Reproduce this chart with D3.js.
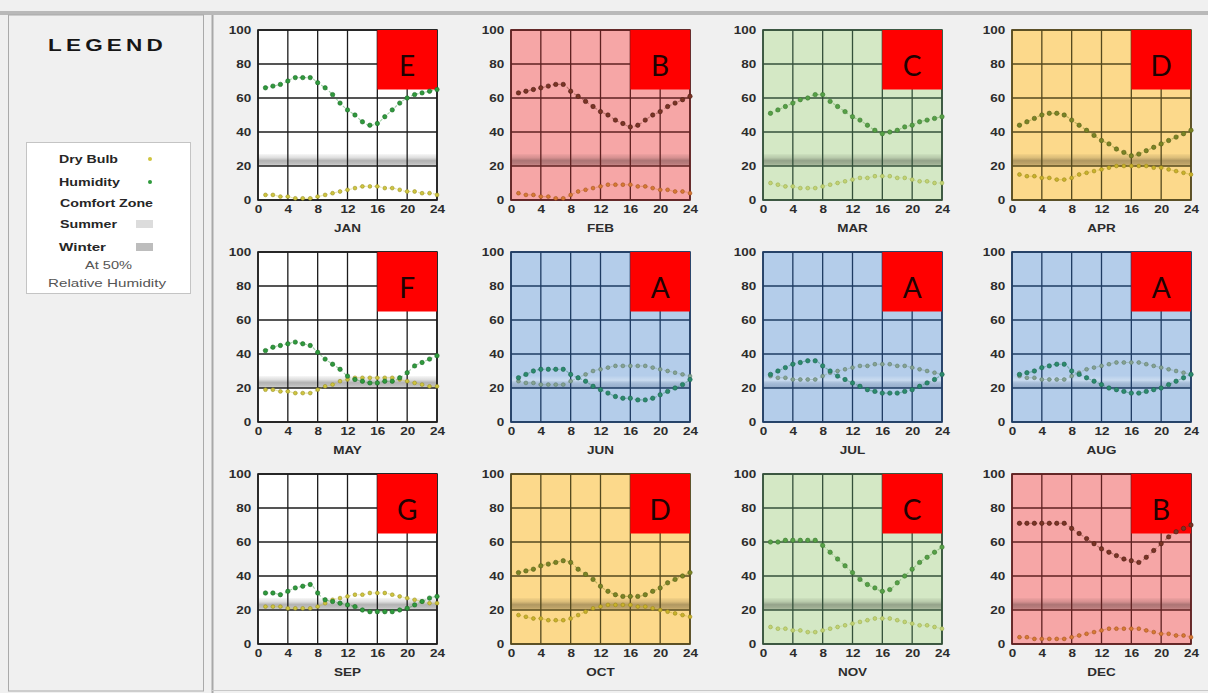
<!DOCTYPE html>
<html>
<head>
<meta charset="utf-8">
<script src="https://cdn.jsdelivr.net/npm/d3@7"></script>
<style>
  html, body { margin: 0; padding: 0; background: #f0f0f0; }
  svg { display: block; font-family: "Liberation Sans", Arial, sans-serif; }
</style>
</head>
<body>
<svg id="chart" width="1208" height="693"></svg>
<script>
// ---- data -------------------------------------------------------------
const months = ["JAN", "FEB", "MAR", "APR", "MAY", "JUN", "JUL", "AUG", "SEP", "OCT", "NOV", "DEC"];
const zoneLetters = ["E", "B", "C", "D", "F", "A", "A", "A", "G", "D", "C", "B"];
const zoneThemes = ["white", "pink", "green", "yellow", "white", "blue", "blue", "blue", "white", "yellow", "green", "pink"];
const hours = [1, 2, 3, 4, 5, 6, 7, 8, 9, 10, 11, 12, 13, 14, 15, 16, 17, 18, 19, 20, 21, 22, 23, 24];
const xTicks = [0, 4, 8, 12, 16, 20, 24];
const yTicks = [0, 20, 40, 60, 80, 100];
const comfortZone = [20, 27];   // band at 50% relative humidity
const zoneBox = { from: 16, to: 24, low: 65, high: 100 };

// hourly dry bulb, one row per month
const dryBulb = [
  [3, 3, 2, 2, 1, 1, 1, 2, 3, 4, 5, 6, 7, 8, 8, 8, 7, 7, 6, 5, 5, 4, 4, 3],
  [4, 3, 3, 2, 2, 1, 1, 3, 5, 6, 7, 8, 9, 9, 9, 9, 8, 8, 7, 6, 6, 5, 5, 4],
  [10, 9, 8, 8, 7, 7, 7, 8, 9, 10, 11, 12, 13, 13, 14, 14, 14, 13, 13, 12, 11, 11, 10, 10],
  [15, 14, 14, 13, 13, 12, 12, 13, 15, 16, 17, 18, 19, 20, 20, 20, 20, 20, 19, 19, 18, 17, 16, 15],
  [19, 19, 18, 18, 17, 17, 17, 19, 21, 22, 24, 25, 26, 26, 26, 26, 26, 26, 25, 24, 23, 22, 21, 21],
  [24, 23, 23, 22, 22, 22, 22, 24, 26, 28, 30, 31, 32, 33, 33, 33, 33, 33, 32, 31, 30, 29, 28, 27],
  [27, 26, 26, 25, 25, 25, 25, 27, 29, 30, 31, 32, 33, 33, 34, 34, 34, 33, 33, 32, 31, 30, 29, 28],
  [27, 26, 26, 25, 25, 25, 25, 27, 29, 31, 32, 33, 34, 35, 35, 35, 35, 34, 33, 32, 31, 30, 29, 28],
  [22, 22, 22, 21, 21, 21, 21, 22, 24, 26, 27, 28, 29, 29, 30, 30, 30, 29, 28, 27, 26, 25, 24, 24],
  [17, 16, 15, 15, 14, 14, 14, 15, 17, 19, 21, 22, 23, 23, 23, 23, 22, 22, 21, 20, 19, 18, 17, 16],
  [10, 9, 9, 8, 8, 7, 7, 8, 9, 10, 11, 12, 13, 14, 15, 15, 15, 14, 13, 12, 11, 11, 10, 9],
  [4, 4, 3, 3, 3, 3, 3, 4, 5, 6, 7, 8, 9, 9, 9, 9, 9, 8, 7, 6, 6, 5, 5, 4]
];

// hourly humidity, one row per month
const humidity = [
  [66, 67, 68, 70, 72, 72, 72, 69, 66, 62, 57, 53, 50, 46, 44, 45, 49, 53, 57, 60, 62, 63, 64, 65],
  [63, 64, 65, 66, 67, 68, 68, 64, 61, 58, 55, 52, 50, 47, 45, 43, 44, 47, 50, 52, 55, 57, 59, 61],
  [51, 53, 55, 57, 59, 60, 62, 62, 58, 55, 52, 49, 47, 44, 41, 39, 40, 41, 43, 44, 46, 47, 48, 49],
  [44, 46, 48, 50, 51, 51, 50, 47, 44, 41, 38, 35, 33, 30, 28, 26, 27, 29, 31, 33, 35, 37, 39, 41],
  [42, 44, 45, 46, 47, 46, 45, 41, 37, 34, 31, 27, 25, 24, 23, 23, 24, 24, 26, 29, 33, 35, 37, 39],
  [26, 28, 30, 31, 31, 31, 31, 28, 26, 24, 21, 19, 17, 15, 14, 14, 13, 13, 14, 16, 18, 20, 22, 25],
  [28, 30, 32, 34, 35, 36, 36, 33, 30, 27, 25, 23, 21, 19, 18, 17, 17, 17, 18, 19, 21, 23, 25, 28],
  [28, 29, 30, 32, 33, 34, 34, 30, 28, 26, 24, 22, 20, 19, 18, 17, 17, 18, 19, 20, 22, 24, 26, 28],
  [30, 30, 29, 31, 33, 34, 35, 30, 26, 25, 24, 23, 22, 20, 19, 19, 19, 19, 20, 21, 23, 25, 27, 28],
  [42, 43, 44, 46, 47, 48, 49, 48, 44, 41, 38, 34, 31, 29, 28, 28, 28, 29, 31, 33, 36, 38, 40, 42],
  [60, 60, 61, 61, 61, 61, 61, 58, 54, 50, 46, 42, 38, 35, 33, 31, 32, 36, 40, 44, 48, 51, 54, 57],
  [71, 71, 71, 71, 71, 71, 71, 68, 65, 62, 59, 56, 54, 52, 50, 49, 48, 51, 55, 59, 63, 66, 68, 70]
];

// ---- styling ----------------------------------------------------------
const themes = {
  white:  { bg: "#ffffff", grid: "#1c1c1c", hum: "#2f9a3c", humEdge: "#1d6a28", dry: "#cfc53e", dryEdge: "#9a9228", band: "dark" },
  pink:   { bg: "#f6a6a6", grid: "#5e2020", hum: "#7a3424", humEdge: "#4e1c14", dry: "#d67a34", dryEdge: "#a85420", band: "dark" },
  green:  { bg: "#d4e8c5", grid: "#34503a", hum: "#56a046", humEdge: "#3b7a30", dry: "#c2d274", dryEdge: "#9cb050", band: "dark" },
  yellow: { bg: "#fcd98b", grid: "#54491e", hum: "#7a8424", humEdge: "#58601a", dry: "#c9b22a", dryEdge: "#9c8a1c", band: "dark" },
  blue:   { bg: "#b4cdea", grid: "#1e3b62", hum: "#2b8a6c", humEdge: "#1d6650", dry: "#86a292", dryEdge: "#60806e", band: "light" }
};

const colLeft = [258, 511, 763, 1012];
const rowTop = [30, 252, 474];
const plotW = 179, plotH = 170;
const textStretch = "scale(1.35,1)";

const svg = d3.select("#chart");
const defs = svg.append("defs");

// comfort band gradients
const darkBand = defs.append("linearGradient").attr("id", "band-dark")
  .attr("x1", 0).attr("y1", 0).attr("x2", 0).attr("y2", 1);
[[0, 0.04], [0.3, 0.13], [0.55, 0.3], [0.85, 0.24], [1, 0.08]].forEach(([o, a]) =>
  darkBand.append("stop").attr("offset", o).attr("stop-color", "#000").attr("stop-opacity", a));
const lightBand = defs.append("linearGradient").attr("id", "band-light")
  .attr("x1", 0).attr("y1", 0).attr("x2", 0).attr("y2", 1);
[[0, "#fff", 0.05], [0.35, "#fff", 0.3], [0.65, "#56627a", 0.18], [1, "#1e3050", 0.22]].forEach(([o, c, a]) =>
  lightBand.append("stop").attr("offset", o).attr("stop-color", c).attr("stop-opacity", a));

// ---- page chrome ------------------------------------------------------
svg.append("rect").attr("x", 0).attr("y", 0).attr("width", 1208).attr("height", 693).attr("fill", "#f0f0f0");
svg.append("rect").attr("x", 0).attr("y", 11).attr("width", 1208).attr("height", 4).attr("fill", "#b9b9b9");
svg.append("rect").attr("x", 8.5).attr("y", 15).attr("width", 195).attr("height", 676)
  .attr("fill", "#f0f0f0").attr("stroke", "#aaaaaa").attr("stroke-width", 1);
svg.append("line").attr("x1", 212.5).attr("x2", 212.5).attr("y1", 15).attr("y2", 693)
  .attr("stroke", "#a8a8a8").attr("stroke-width", 2);
svg.append("line").attr("x1", 212).attr("x2", 1208).attr("y1", 690.5).attr("y2", 690.5)
  .attr("stroke", "#c8c8c8").attr("stroke-width", 1);

// ---- legend -----------------------------------------------------------
const legend = svg.append("g");
legend.append("text").attr("x", 48).attr("y", 51).attr("font-size", 16).attr("font-weight", 900)
  .attr("letter-spacing", 3)
  .attr("fill", "#161616").attr("textLength", 119).attr("lengthAdjust", "spacingAndGlyphs").text("LEGEND");
legend.append("rect").attr("x", 26.5).attr("y", 142.5).attr("width", 164).attr("height", 151)
  .attr("fill", "#ffffff").attr("stroke", "#c4c4c4");

const legendRows = [
  { label: "Dry Bulb", x: 59, y: 163, w: 59, bold: true },
  { label: "Humidity", x: 59, y: 186, w: 61, bold: true },
  { label: "Comfort Zone", x: 60, y: 207, w: 93, bold: true },
  { label: "Summer", x: 60, y: 228, w: 57, bold: true },
  { label: "Winter", x: 59, y: 251, w: 47, bold: true },
  { label: "At 50%", x: 85, y: 269, w: 47, bold: false },
  { label: "Relative Humidity", x: 48, y: 287, w: 118, bold: false }
];
legendRows.forEach(r => {
  legend.append("text").attr("x", r.x).attr("y", r.y).attr("font-size", 11)
    .attr("font-weight", r.bold ? "bold" : "normal")
    .attr("fill", r.bold ? "#262626" : "#555555")
    .attr("textLength", r.w).attr("lengthAdjust", "spacingAndGlyphs").text(r.label);
});
legend.append("circle").attr("cx", 150).attr("cy", 159).attr("r", 2).attr("fill", themes.white.dry);
legend.append("circle").attr("cx", 150).attr("cy", 182).attr("r", 2).attr("fill", themes.white.hum);
legend.append("rect").attr("x", 136).attr("y", 220).attr("width", 17).attr("height", 8).attr("fill", "#dcdcdc");
legend.append("rect").attr("x", 136).attr("y", 243).attr("width", 17).attr("height", 8).attr("fill", "#bdbdbd");

// ---- monthly panels ---------------------------------------------------
const x = d3.scaleLinear().domain([0, 24]).range([0, plotW]);
const y = d3.scaleLinear().domain([0, 100]).range([plotH, 0]);
const line = d3.line().x((d, i) => x(hours[i])).y(d => y(d)).curve(d3.curveMonotoneX);

months.forEach((month, m) => {
  const t = themes[zoneThemes[m]];
  const g = svg.append("g")
    .attr("transform", `translate(${colLeft[m % 4]},${rowTop[Math.floor(m / 4)]})`);

  g.append("rect").attr("width", plotW).attr("height", plotH).attr("fill", t.bg);

  g.append("rect")
    .attr("x", 0).attr("width", plotW)
    .attr("y", y(comfortZone[1])).attr("height", y(comfortZone[0]) - y(comfortZone[1]))
    .attr("fill", t.band === "light" ? "url(#band-light)" : "url(#band-dark)");

  g.selectAll(".vgrid").data(xTicks).join("line")
    .attr("x1", d => x(d)).attr("x2", d => x(d)).attr("y1", 0).attr("y2", plotH)
    .attr("stroke", t.grid).attr("stroke-width", 1.3);
  g.selectAll(".hgrid").data(yTicks).join("line")
    .attr("x1", 0).attr("x2", plotW).attr("y1", d => y(d)).attr("y2", d => y(d))
    .attr("stroke", t.grid).attr("stroke-width", 1.3);
  g.append("rect").attr("width", plotW).attr("height", plotH)
    .attr("fill", "none").attr("stroke", t.grid).attr("stroke-width", 1.6);

  // zone label box
  g.append("rect")
    .attr("x", x(zoneBox.from)).attr("width", x(zoneBox.to) - x(zoneBox.from))
    .attr("y", y(zoneBox.high)).attr("height", y(zoneBox.low) - y(zoneBox.high))
    .attr("fill", "#ff0000");
  g.append("text")
    .attr("x", x((zoneBox.from + zoneBox.to) / 2)).attr("y", y(73))
    .attr("text-anchor", "middle").attr("font-family", "Lato, 'Open Sans', sans-serif")
    .attr("font-size", 28).attr("fill", "#200202").text(zoneLetters[m]);

  // series: dry bulb underneath, humidity on top
  [[dryBulb[m], t.dry, t.dryEdge, 1.9], [humidity[m], t.hum, t.humEdge, 2.2]].forEach(([vals, c, edge, r]) => {
    g.append("path").datum(vals).attr("d", line)
      .attr("fill", "none").attr("stroke", c).attr("stroke-width", 1.1)
      .attr("stroke-opacity", 0.45).attr("stroke-dasharray", "3 2");
    g.selectAll(null).data(vals).join("circle")
      .attr("cx", (d, i) => x(hours[i])).attr("cy", d => y(d)).attr("r", r)
      .attr("fill", c).attr("stroke", edge).attr("stroke-width", 0.6);
  });

  // axes
  const yAxis = g.append("g").call(d3.axisLeft(y).tickValues(yTicks).tickSize(0).tickPadding(5));
  const xAxis = g.append("g").attr("transform", `translate(0,${plotH})`)
    .call(d3.axisBottom(x).tickValues(xTicks).tickSize(0).tickPadding(6));
  [yAxis, xAxis].forEach(a => {
    a.select(".domain").remove();
    a.selectAll("text").attr("font-size", 10).attr("font-weight", "bold")
      .attr("font-family", "'Liberation Sans', Arial, sans-serif")
      .attr("fill", "#2c2c2c").attr("transform", textStretch);
  });

  g.append("text").attr("transform", `translate(${plotW / 2},${plotH + 32}) ${textStretch}`)
    .attr("text-anchor", "middle").attr("font-size", 10).attr("font-weight", "bold")
    .attr("fill", "#2c2c2c").text(month);
});
</script>
</body>
</html>
